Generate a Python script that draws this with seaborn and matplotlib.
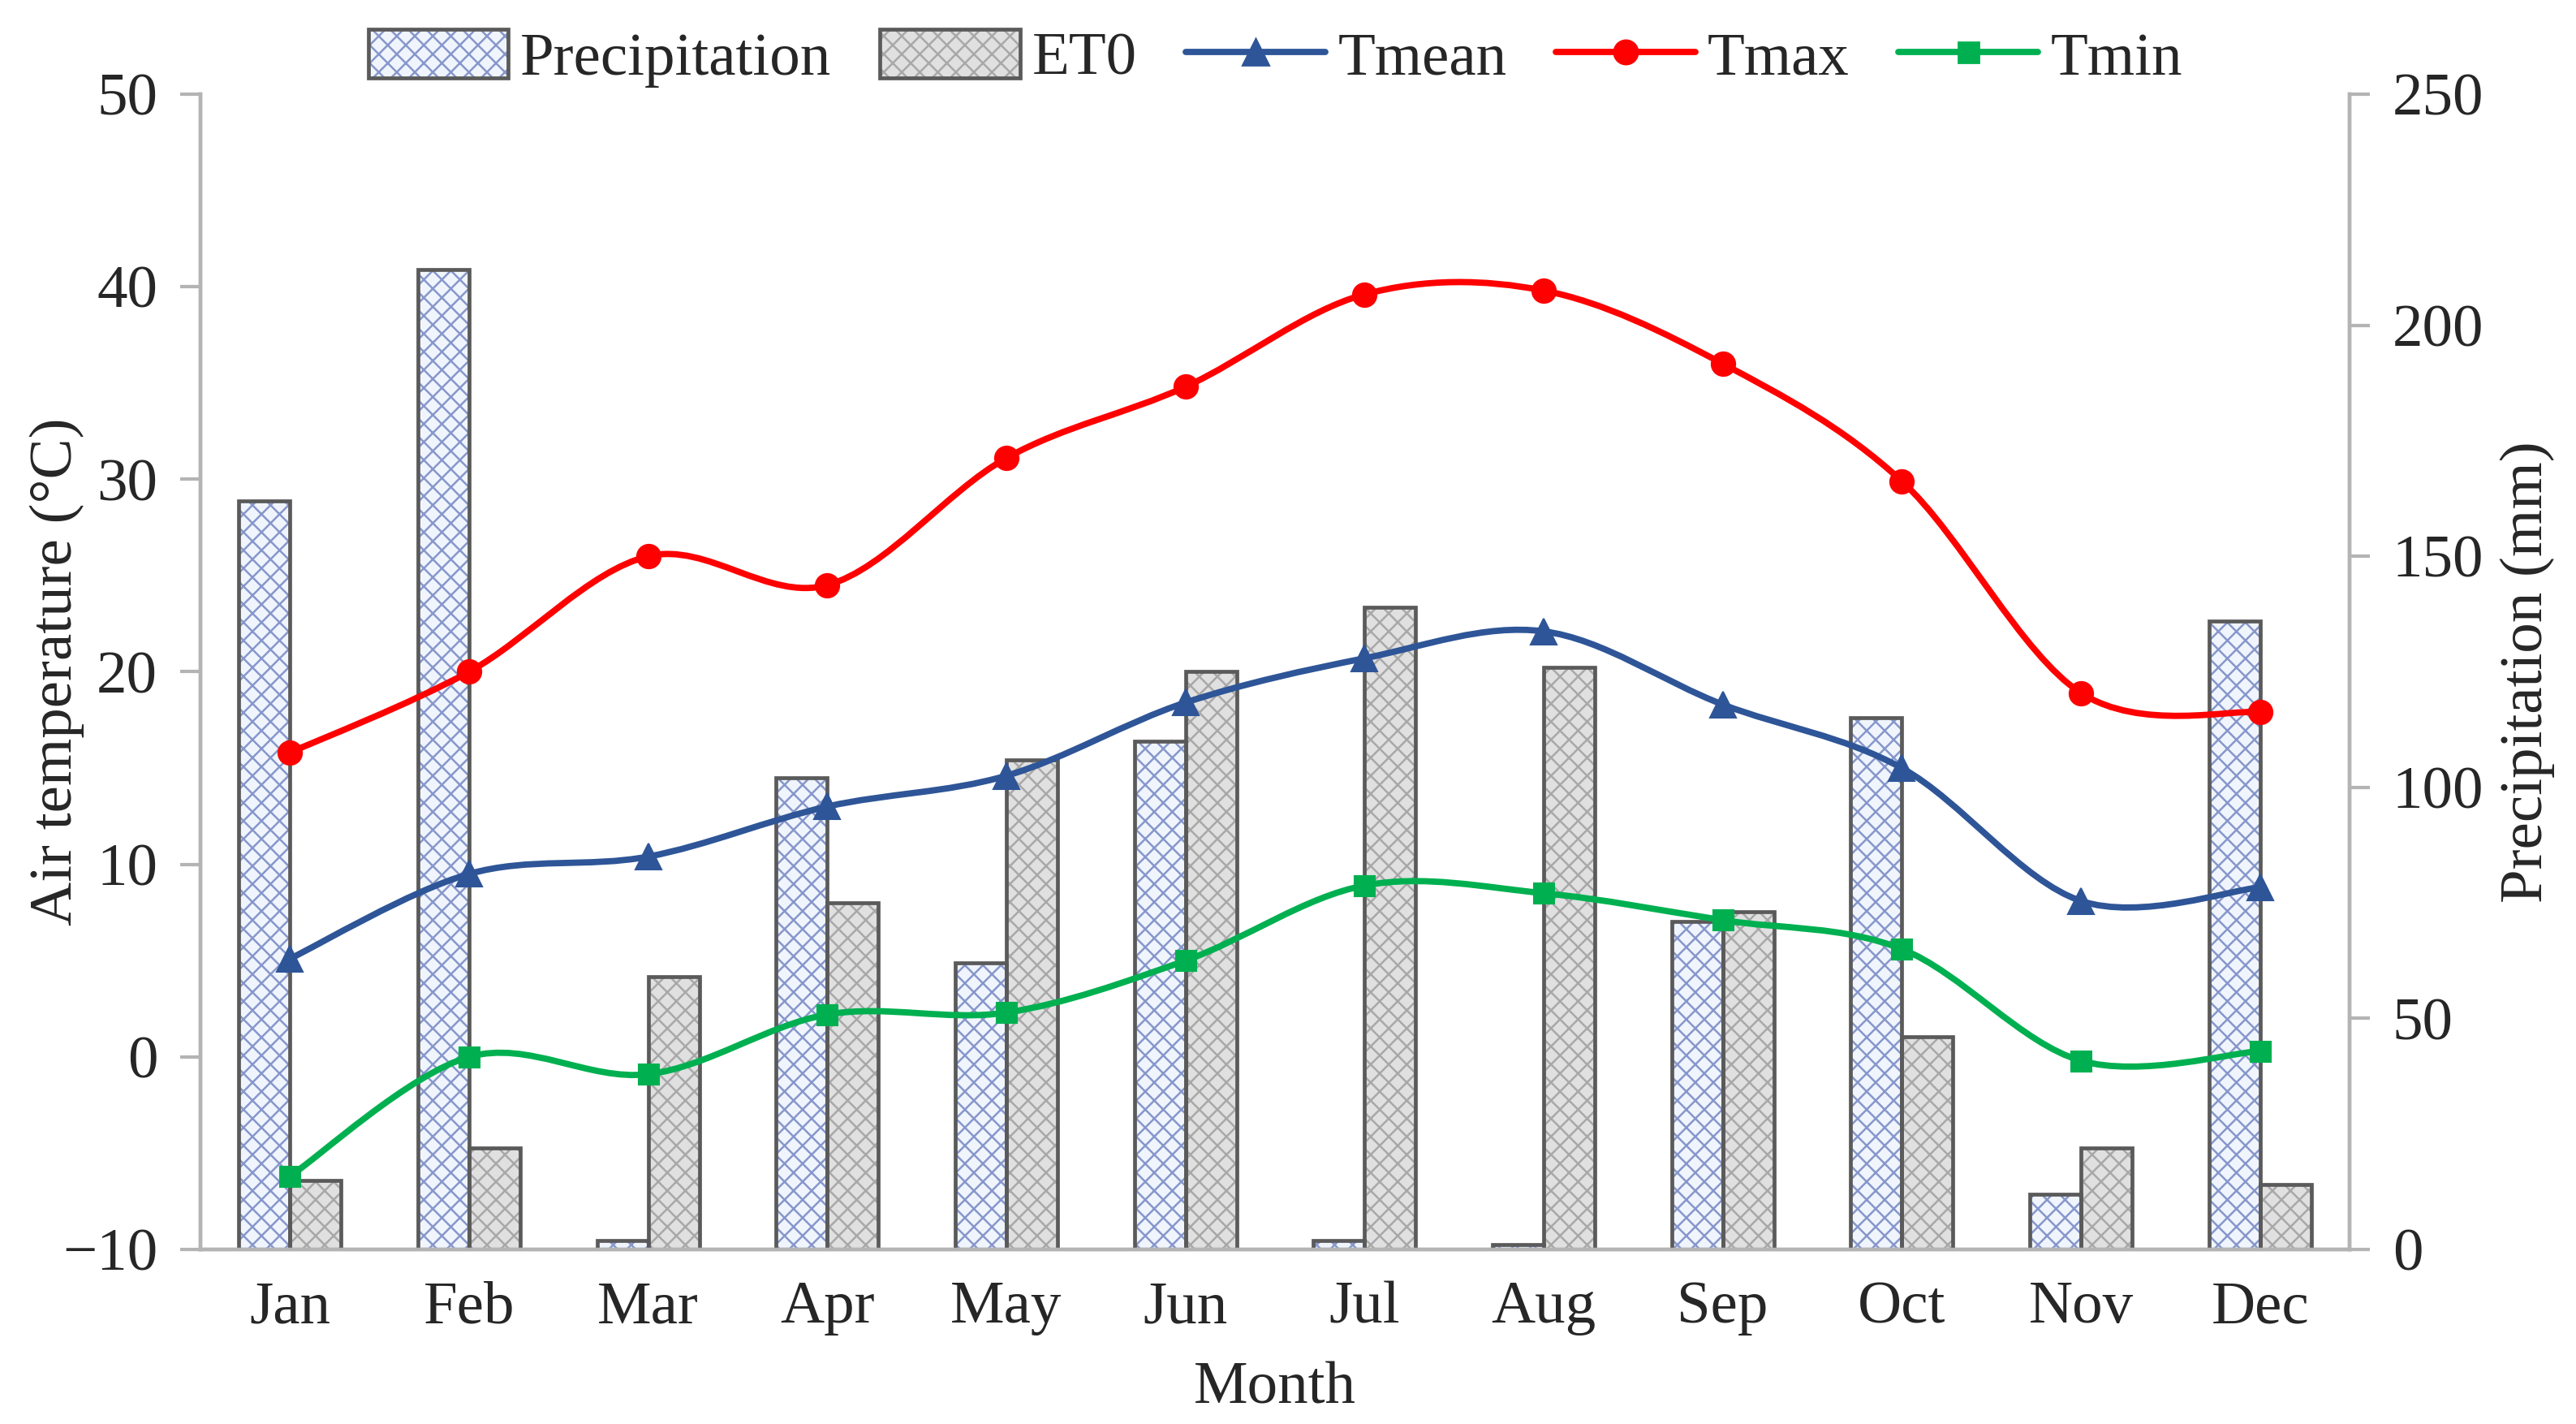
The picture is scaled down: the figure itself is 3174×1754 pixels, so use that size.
import numpy as np
import pandas as pd
import matplotlib
matplotlib.use("Agg")
import matplotlib.pyplot as plt
import seaborn as sns
from matplotlib.path import Path
from matplotlib.patches import PathPatch, Patch
from matplotlib.lines import Line2D

# ---------------- data ----------------
months = ["Jan", "Feb", "Mar", "Apr", "May", "Jun",
          "Jul", "Aug", "Sep", "Oct", "Nov", "Dec"]
precip = [162, 212, 2, 102, 62, 110, 2, 1, 71, 115, 12, 136]
et0 = [15, 22, 59, 75, 106, 125, 139, 126, 73, 46, 22, 14]
tmean = [5.1, 9.5, 10.4, 13.0, 14.6, 18.4, 20.7, 22.1, 18.3, 15.0, 8.1, 8.8]
tmax = [15.8, 20.0, 26.0, 24.5, 31.1, 34.8, 39.6, 39.8, 36.0, 29.9, 18.9, 17.9]
tmin = [-6.2, 0.0, -0.9, 2.2, 2.3, 5.0, 8.9, 8.5, 7.1, 5.6, -0.2, 0.3]
temp_ticks = [-10, 0, 10, 20, 30, 40, 50]
prec_ticks = [0, 50, 100, 150, 200, 250]

# ---------------- style ----------------
sns.set_style("white")
plt.rcParams["font.family"] = ["Liberation Serif", "DejaVu Serif"]
plt.rcParams["hatch.linewidth"] = 0.9
FS = 27
SPINE = "#b4b4b4"
EDGE = "#5a5a5a"

fig = plt.figure(figsize=(15.87, 8.77), dpi=200)
ax = fig.add_axes([0.0778, 0.1226, 0.8343, 0.8113])
ax2 = ax.twinx()
ax.yaxis.tick_right()
ax.yaxis.set_label_position("right")
ax2.yaxis.tick_left()
ax2.yaxis.set_label_position("left")

# ---------------- bars (right axis) ----------------
bar_df = pd.DataFrame({
    "Month": months * 2,
    "value": precip + et0,
    "Series": ["Precipitation"] * 12 + ["ET0"] * 12,
})
series_order = ["Precipitation", "ET0"]
face = {"Precipitation": "#f0f5fd", "ET0": "#e0e0e0"}
hatchcol = {"Precipitation": "#8797cb", "ET0": "#a8a8a8"}

sns.barplot(data=bar_df, x="Month", y="value", hue="Series",
            hue_order=series_order, palette=face, width=0.57, gap=0,
            linewidth=0, legend=False, ax=ax, zorder=2)
for cont, s in zip(ax.containers[:2], series_order):
    for b in cont:
        b.set_facecolor(face[s])
        b.set_edgecolor(hatchcol[s])
        b.set_hatch("xxx")
        b.set_linewidth(0)

sns.barplot(data=bar_df, x="Month", y="value", hue="Series",
            hue_order=series_order, palette=face, width=0.57, gap=0,
            fill=False, legend=False, ax=ax, zorder=3)
for cont in ax.containers[2:]:
    for b in cont:
        b.set_facecolor("none")
        b.set_edgecolor(EDGE)
        b.set_linewidth(1.7)
        b.set_hatch(None)

ax.set_ylim(0, 250)
ax.set_yticks(prec_ticks)
ax.set_ylabel("Precipitation (mm)", fontsize=FS)
ax.set_xlabel("Month", fontsize=FS)

# ---------------- temperature lines (left axis) ----------------
xpos = np.arange(len(months))


def smooth_path(x, y):
    pts = np.column_stack([x, y]).astype(float)
    n = len(pts)
    verts = [pts[0]]
    codes = [Path.MOVETO]
    for i in range(n - 1):
        p0 = pts[i - 1] if i > 0 else pts[i]
        p1 = pts[i]
        p2 = pts[i + 1]
        p3 = pts[i + 2] if i + 2 < n else pts[i + 1]
        c1 = p1 + (p2 - p0) / 6.0
        c2 = p2 - (p3 - p1) / 6.0
        verts += [c1, c2, p2]
        codes += [Path.CURVE4] * 3
    return Path(verts, codes)


line_specs = [
    ("Tmean", tmean, "#2e5597", "^", 11.5),
    ("Tmax", tmax, "#ff0000", "o", 10.5),
    ("Tmin", tmin, "#00b050", "s", 9),
]
for name, vals, col, mk, ms in line_specs:
    ax2.add_patch(PathPatch(smooth_path(xpos, vals), facecolor="none",
                            edgecolor=col, linewidth=2.8, zorder=3,
                            capstyle="round", joinstyle="round"))
    sns.lineplot(x=xpos, y=vals, marker=mk, markersize=ms, color=col,
                 markeredgecolor=col, linewidth=0, ax=ax2, zorder=4)

ax2.set_ylim(-10, 50)
ax2.set_yticks(temp_ticks)
ax2.set_ylabel("Air temperature (°C)", fontsize=FS)
ax.set_xlim(-0.5, 11.5)

# ---------------- axes styling ----------------
for a in (ax, ax2):
    a.spines["top"].set_visible(False)
    for s in ("left", "right", "bottom"):
        a.spines[s].set_color(SPINE)
        a.spines[s].set_linewidth(1.6)
    a.grid(False)

ax.tick_params(axis="y", which="both", direction="out", length=9, width=1.5,
               color=SPINE, labelsize=FS, pad=10, right=True, left=False,
               labelright=True, labelleft=False)
ax2.tick_params(axis="y", which="both", direction="out", length=9, width=1.5,
                color=SPINE, labelsize=FS, pad=10, left=True, right=False,
                labelleft=True, labelright=False)
ax.tick_params(axis="x", length=0, pad=14, labelsize=FS)

ax2.yaxis.set_label_coords(-0.054, 0.5)
ax.yaxis.set_label_coords(1.070, 0.5)
ax.xaxis.set_label_coords(0.5, -0.097)

# ---------------- legend ----------------
handles = []
for s in series_order:
    h1 = Patch(facecolor=face[s], edgecolor=hatchcol[s], hatch="xxx", linewidth=0)
    h2 = Patch(facecolor="none", edgecolor=EDGE, linewidth=1.7)
    handles.append((h1, h2))
for name, vals, col, mk, ms in line_specs:
    handles.append(Line2D([], [], color=col, lw=2.8, marker=mk, markersize=ms))
labels = series_order + [s[0] for s in line_specs]
fig.legend(handles, labels, loc="center", bbox_to_anchor=(0.495, 0.959),
           ncol=5, frameon=False, fontsize=FS, handlelength=2.3,
           handleheight=0.85, handletextpad=0.2, columnspacing=0.8)

fig.savefig("out.png", dpi=200)
